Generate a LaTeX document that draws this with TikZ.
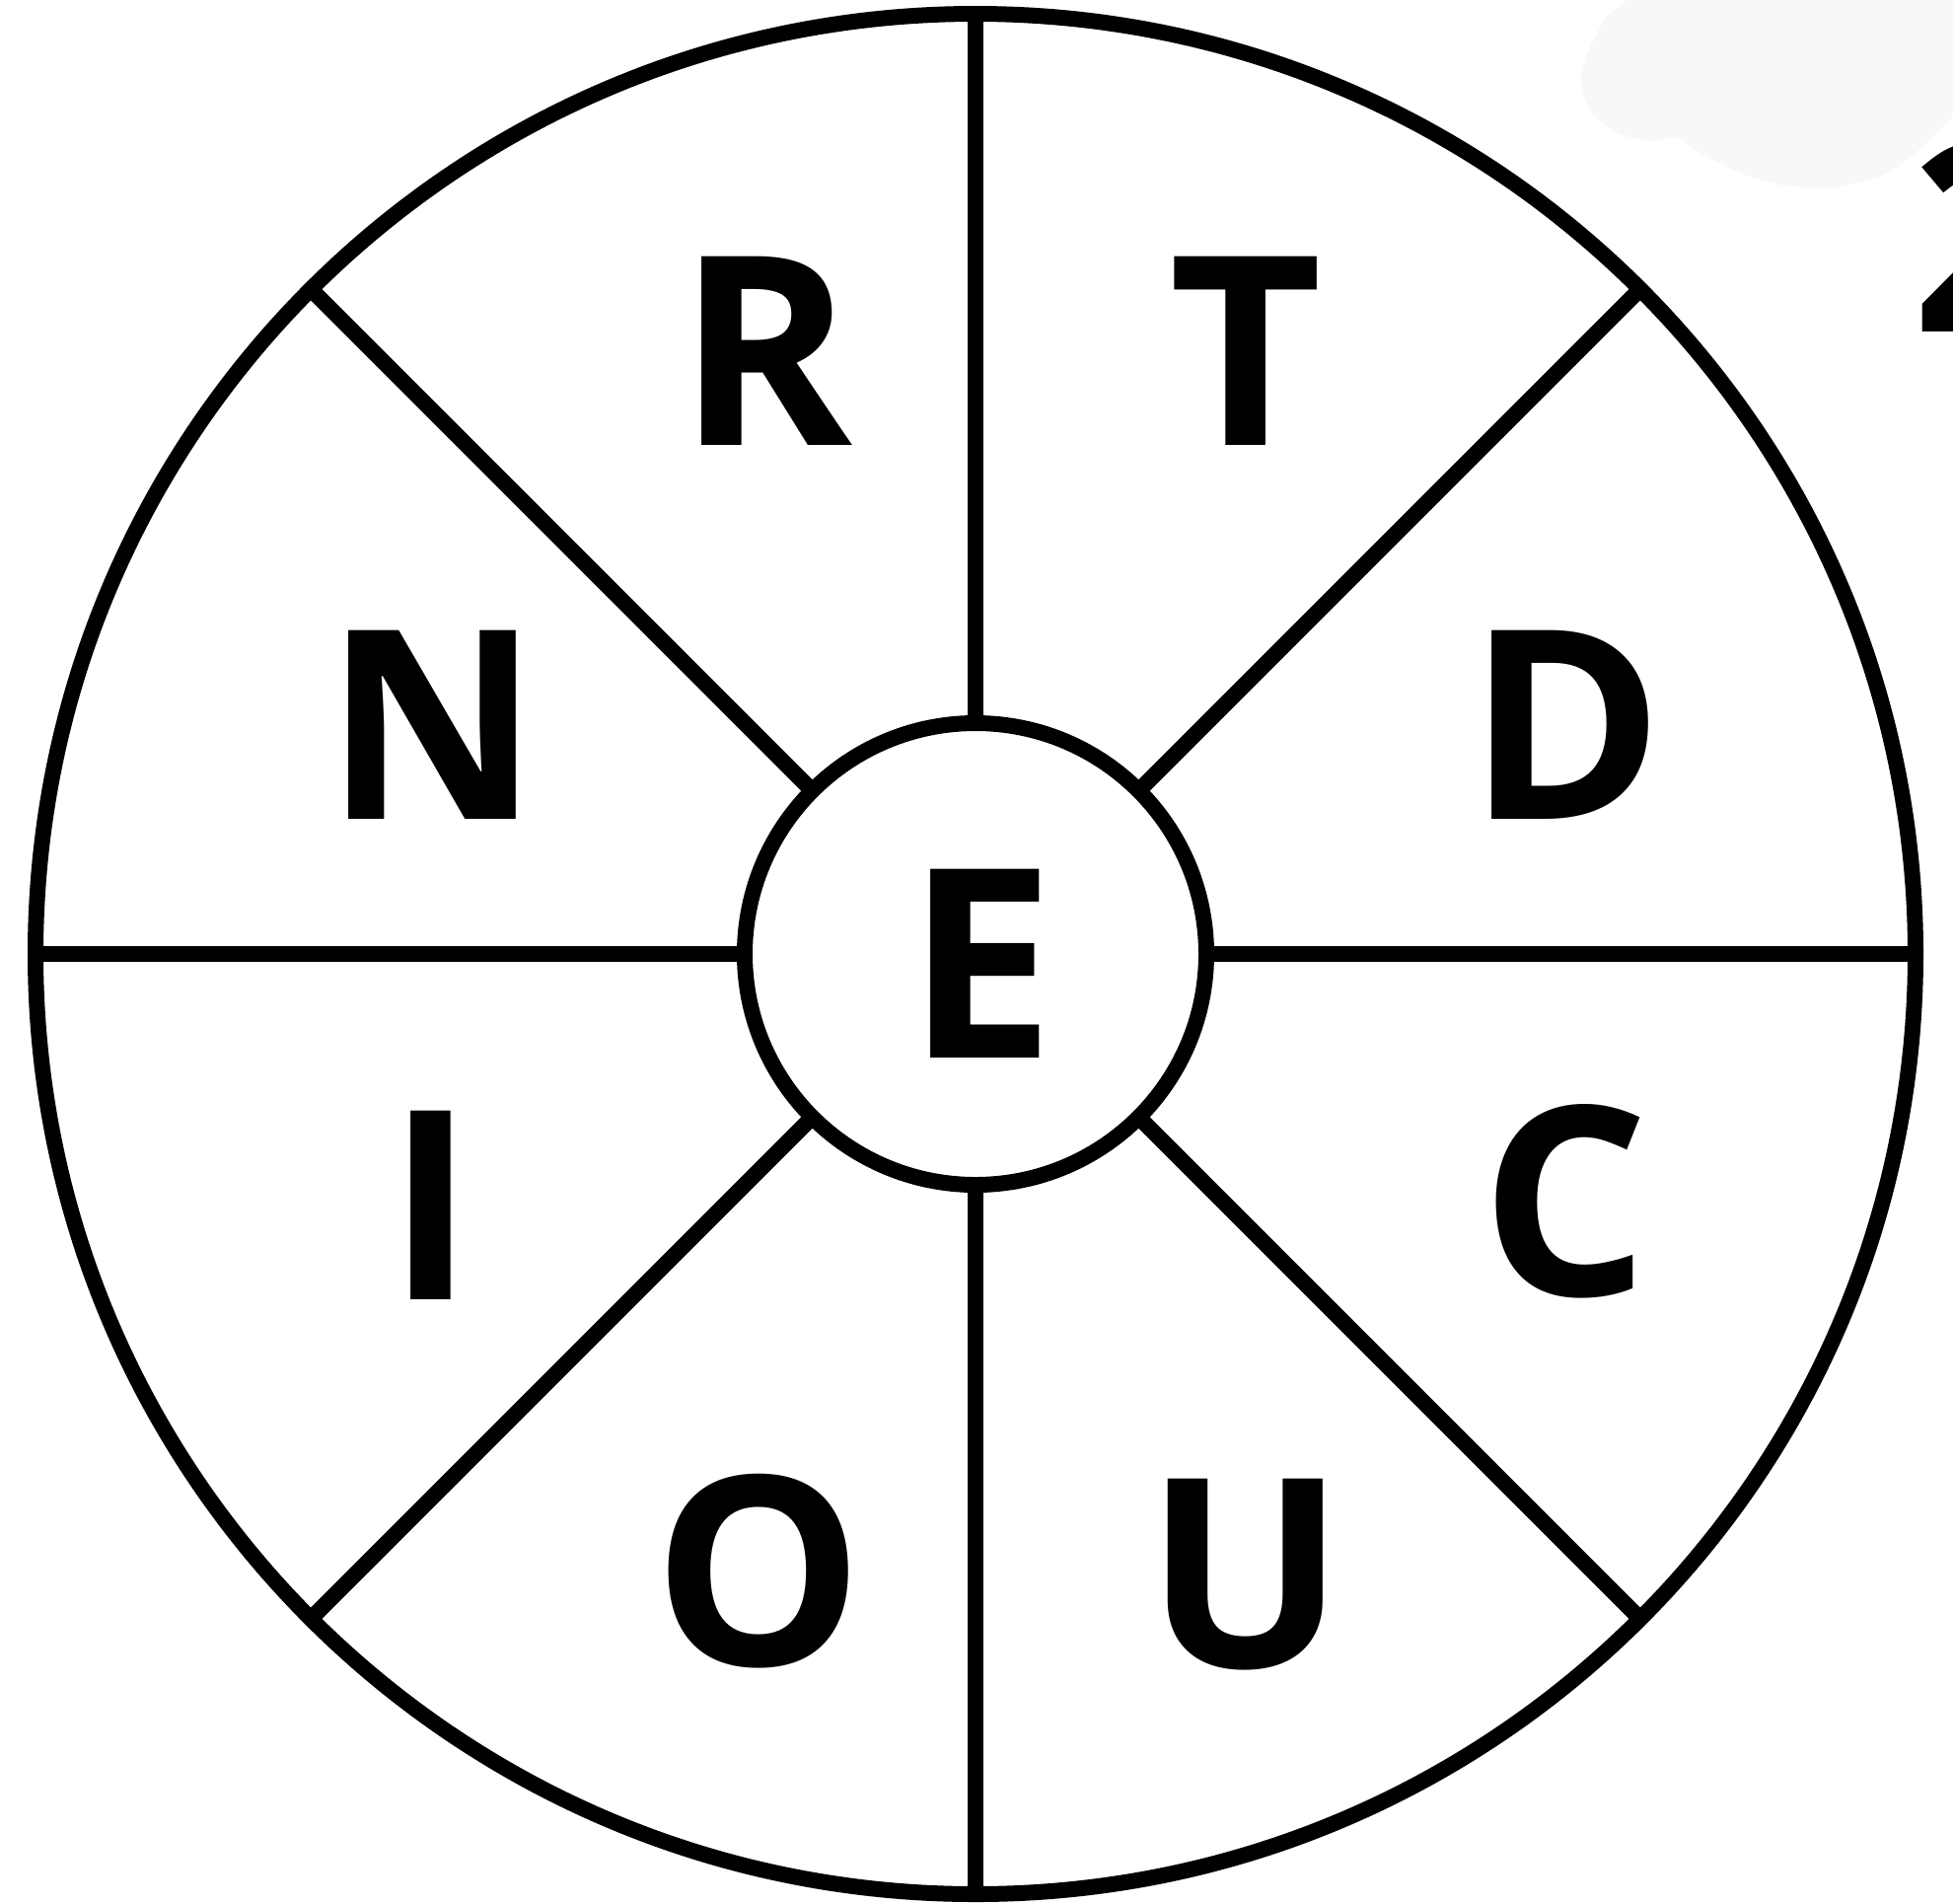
\documentclass[tikz,border=0pt]{standalone}
\usepackage{fontspec}
\setmainfont{Open Sans}
\definecolor{blob}{HTML}{F8F8F8}
\begin{document}
\begin{tikzpicture}[x=0.5pt,y=-0.5pt, line width=8pt,
  ltr/.style={font=\fontsize{134}{134}\selectfont\bfseries, inner sep=0pt, outer sep=0pt, anchor=base},
  ring/.style={circle, draw, inner sep=0pt, outer sep=0pt}]
\useasboundingbox (0,0) rectangle (1980,1929);
\fill[white] (0,0) rectangle (1980,1929);
\begin{scope}
\clip (0,0) rectangle (1980,1929);
\fill[blob] plot[smooth, tension=0.6] coordinates {(1660,-5) (1650,0) (1627,20) (1607,60) (1603,83) (1613,113) (1637,133) (1670,143) (1700,140) (1727,157) (1777,180) (1827,190) (1877,187) (1927,167) (1985,112)} -- (1985,-5) -- cycle;
\node[ltr, anchor=base west] (two) at (1938,336) {2};
\end{scope}
\node[ring, minimum size=953pt] (rim) at (989,967) {};
\node[ring, minimum size=234pt] (hub) at (989,967) {};
\foreach \a in {0,45,...,315} \draw (hub.\a) -- (rim.\a);
\node[ltr] (lE) at (995,1072) {E};
\node[ltr] (lR) at (776,451) {R};
\node[ltr] (lT) at (1263,451) {T};
\node[ltr] (lN) at (438,830) {N};
\node[ltr] (lD) at (1588,830) {D};
\node[ltr] (lI) at (437,1317) {I};
\node[ltr] (lC) at (1587,1313) {C};
\node[ltr] (lO) at (769,1688) {O};
\node[ltr] (lU) at (1263,1690) {U};
\end{tikzpicture}
\end{document}
